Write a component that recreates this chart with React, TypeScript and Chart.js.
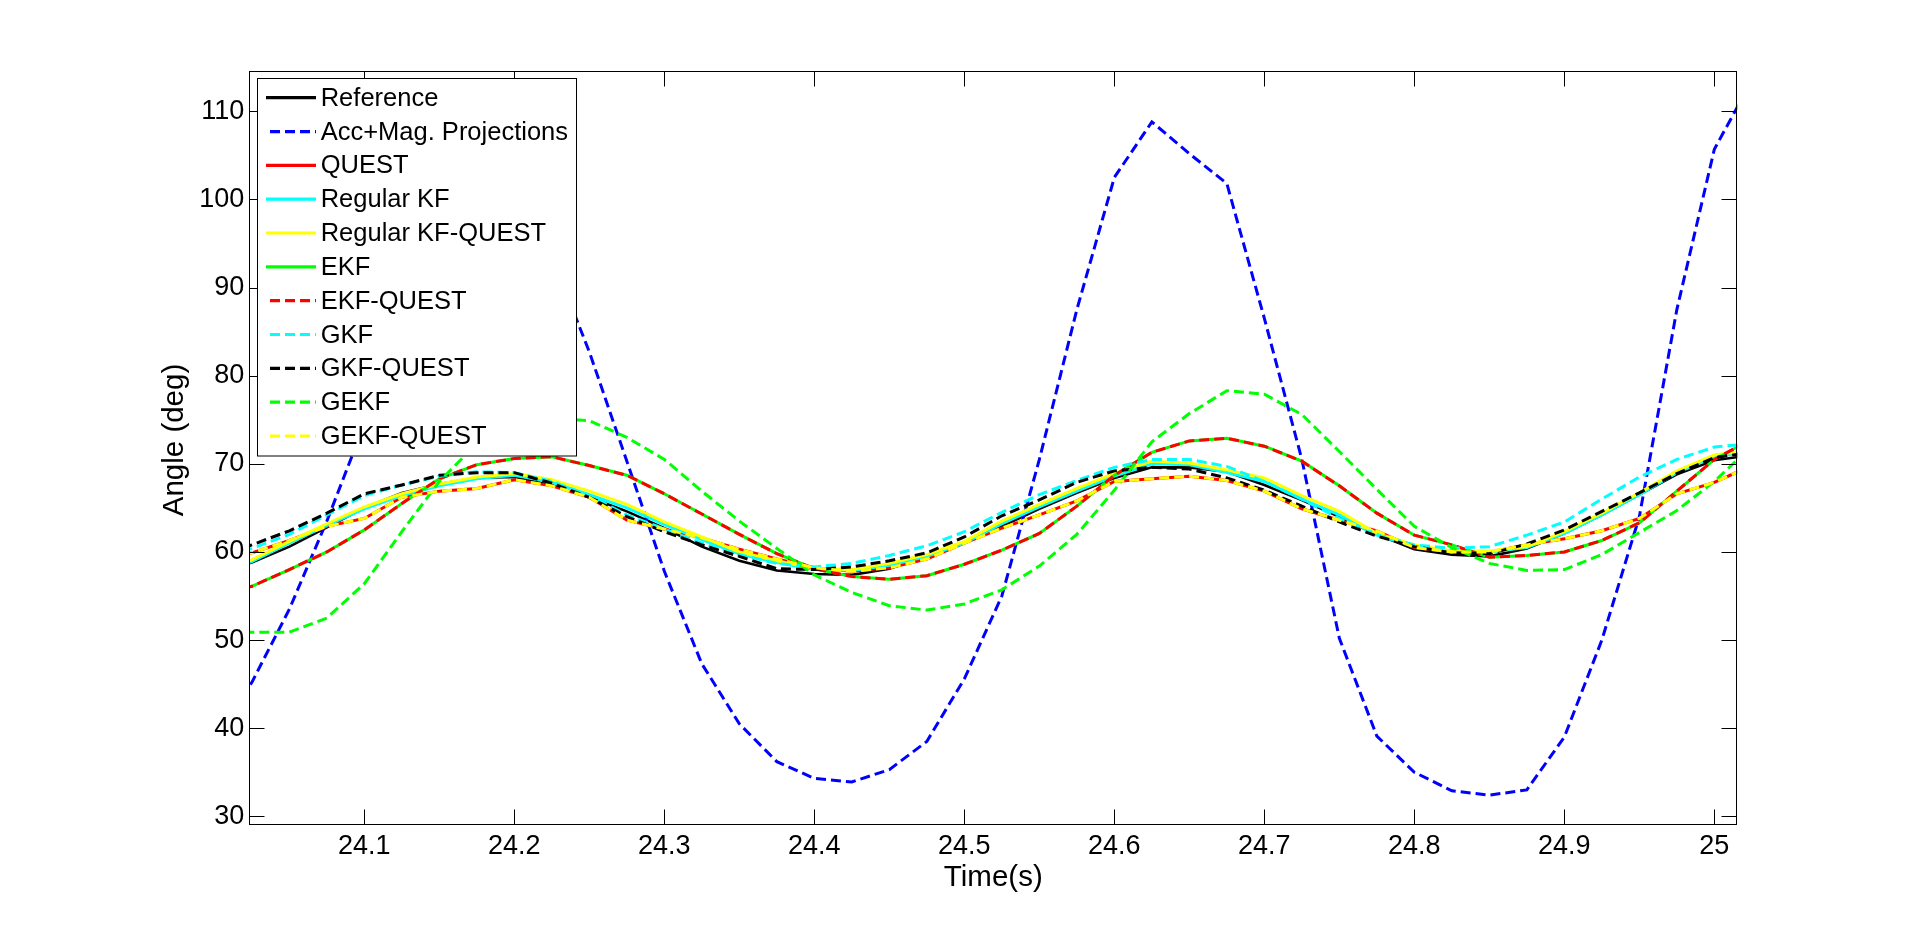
import React, { useEffect, useRef } from 'react';
import { Chart, registerables } from 'chart.js';

Chart.register(...registerables);

// ---- data ----
const time = [
  24.0, 24.025, 24.05, 24.075, 24.1, 24.125, 24.15, 24.175, 24.2, 24.225,
  24.25, 24.275, 24.3, 24.325, 24.35, 24.375, 24.4, 24.425, 24.45, 24.475,
  24.5, 24.525, 24.55, 24.575, 24.6, 24.625, 24.65, 24.675, 24.7, 24.725,
  24.75, 24.775, 24.8, 24.825, 24.85, 24.875, 24.9, 24.925, 24.95, 24.975,
  25.0, 25.025,
];

const reference = [
  57.8, 58.8, 60.6, 62.8, 65.0, 66.7, 67.7, 68.4, 68.5, 67.6,
  66.2, 64.6, 62.7, 60.6, 59.0, 57.9, 57.5, 57.4, 58.1, 59.5,
  61.0, 62.9, 64.9, 66.7, 68.4, 69.6, 69.6, 69.1, 67.6, 65.9,
  64.0, 62.0, 60.3, 59.7, 59.5, 60.4, 62.1, 64.2, 66.5, 68.8,
  70.4, 71.0,
];

const accMag = [
  39.5, 45.2, 53.5, 63.5, 74.5, 84.0, 90.0, 93.5, 95.0, 93.5,
  82.7, 70.3, 57.8, 47.3, 40.5, 36.2, 34.3, 33.9, 35.3, 38.5,
  45.6, 55.0, 70.5, 87.5, 102.5, 108.8, 105.2, 101.8, 86.5, 70.5,
  50.2, 39.1, 35.0, 32.9, 32.4, 33.0, 39.0, 50.0, 64.0, 87.5,
  105.7, 113.5,
];

const quest = [
  59.0, 59.9, 61.3, 62.9, 63.8, 66.2, 66.9, 67.2, 68.2, 67.5,
  66.2, 63.6, 62.6, 61.6, 60.3, 59.2, 58.2, 57.8, 58.2, 59.2,
  61.0, 62.7, 64.2, 65.8, 68.0, 68.3, 68.6, 68.1, 66.9, 64.9,
  63.6, 62.4, 60.5, 60.0, 60.0, 60.8, 61.5, 62.4, 63.8, 66.6,
  67.9, 69.8,
];

const regularKF = [
  57.8, 58.9, 61.0, 63.0, 64.9, 66.4, 67.5, 68.3, 68.7, 67.9,
  66.5, 65.0, 63.1, 61.4, 59.8, 58.8, 58.0, 57.9, 58.5, 59.5,
  61.0, 63.2, 65.1, 66.9, 68.6, 70.0, 69.9, 69.0, 68.0, 66.0,
  64.2, 61.9, 60.6, 60.0, 60.0, 60.5, 62.1, 64.2, 66.5, 69.0,
  70.8, 71.4,
];

const regularKFQuest = [
  58.0, 59.1, 61.2, 63.2, 65.1, 66.6, 67.7, 68.5, 68.9, 68.2,
  66.9, 65.4, 63.4, 61.7, 60.0, 59.0, 58.1, 58.0, 58.7, 59.7,
  61.2, 63.5, 65.4, 67.2, 68.9, 70.3, 70.1, 69.3, 68.4, 66.4,
  64.6, 62.1, 60.8, 60.1, 60.1, 60.6, 62.3, 64.4, 66.7, 69.2,
  71.0, 71.6,
];

const ekf = [
  55.0, 56.1, 58.0, 60.0, 62.5, 65.5, 68.3, 69.9, 70.6, 70.8,
  69.8, 68.7, 66.6, 64.3, 62.0, 59.8, 58.1, 57.2, 56.9, 57.3,
  58.6, 60.2, 62.1, 65.2, 68.7, 71.3, 72.6, 72.9, 72.0, 70.3,
  67.5, 64.4, 61.9, 60.8, 59.4, 59.6, 60.0, 61.3, 63.3, 66.9,
  70.5, 72.8,
];

const ekfQuest = [...ekf];

const gkf = [
  58.9, 60.4, 62.0, 64.2, 66.4, 67.6, 68.6, 69.1, 69.0, 68.0,
  66.4, 64.2, 62.6, 61.0, 59.7, 58.7, 58.3, 58.7, 59.6, 60.7,
  62.3, 64.5, 66.5, 68.1, 69.6, 70.5, 70.5, 69.7, 68.0, 66.0,
  63.8, 62.0, 60.8, 60.4, 60.6, 61.9, 63.4, 66.0, 68.5, 70.5,
  71.9, 72.3,
];

const gkfQuest = [
  59.3, 60.8, 62.4, 64.4, 66.6, 67.6, 68.7, 69.0, 69.0, 67.8,
  66.2, 64.0, 62.3, 60.8, 59.5, 58.1, 58.0, 58.3, 59.0, 59.9,
  61.7, 64.1, 65.9, 67.9, 69.2, 69.6, 69.4, 68.4, 67.0, 65.2,
  63.4, 61.8, 60.6, 59.9, 59.8, 60.9, 62.5, 64.6, 66.7, 68.9,
  70.7, 71.3,
];

const gekf = [
  50.9, 50.9, 50.9, 52.5, 56.4, 62.3, 68.0, 72.3, 74.3, 75.2,
  74.9, 73.0, 70.5, 66.9, 63.5, 60.4, 57.4, 55.4, 53.9, 53.4,
  54.1, 55.7, 58.4, 62.0, 67.0, 72.5, 75.7, 78.3, 77.9, 75.6,
  71.4, 67.1, 62.9, 60.5, 58.7, 57.9, 58.0, 59.7, 62.2, 64.7,
  68.0, 72.0,
];

const gekfQuest = [...quest];

const xTicks = [24.1, 24.2, 24.3, 24.4, 24.5, 24.6, 24.7, 24.8, 24.9, 25.0];
const xTickLabels = ['24.1', '24.2', '24.3', '24.4', '24.5', '24.6', '24.7', '24.8', '24.9', '25'];
const yTicks = [30, 40, 50, 60, 70, 80, 90, 100, 110];
const yTickLabels = ['30', '40', '50', '60', '70', '80', '90', '100', '110'];

const FONT = '"Liberation Sans", Arial, Helvetica, sans-serif';
const DASH = [10, 5];

export default function App() {
  const canvasRef = useRef<HTMLCanvasElement>(null);

  useEffect(() => {
    const canvas = canvasRef.current;
    if (!canvas) return;

    const specs = [
      { label: 'Reference', data: reference, color: '#000000', dash: [] as number[], width: 2.6 },
      { label: 'Acc+Mag. Projections', data: accMag, color: '#0000FF', dash: DASH, width: 3 },
      { label: 'QUEST', data: quest, color: '#FF0000', dash: [] as number[], width: 3 },
      { label: 'Regular KF', data: regularKF, color: '#00FFFF', dash: [] as number[], width: 3 },
      { label: 'Regular KF-QUEST', data: regularKFQuest, color: '#FFFF00', dash: [] as number[], width: 3 },
      { label: 'EKF', data: ekf, color: '#00FF00', dash: [] as number[], width: 3 },
      { label: 'EKF-QUEST', data: ekfQuest, color: '#FF0000', dash: DASH, width: 3 },
      { label: 'GKF', data: gkf, color: '#00FFFF', dash: DASH, width: 3 },
      { label: 'GKF-QUEST', data: gkfQuest, color: '#000000', dash: DASH, width: 3 },
      { label: 'GEKF', data: gekf, color: '#00FF00', dash: DASH, width: 3 },
      { label: 'GEKF-QUEST', data: gekfQuest, color: '#FFFF00', dash: DASH, width: 3 },
    ];

    const datasets = specs.map((s, i) => ({
      label: s.label,
      data: time.map((t, k) => ({ x: t, y: s.data[k] })),
      borderColor: s.color,
      backgroundColor: s.color,
      borderWidth: s.width,
      borderDash: s.dash,
      pointRadius: 0,
      pointHoverRadius: 0,
      tension: 0,
      fill: false,
      order: -i,
    }));

    const framePlugin = {
      id: 'matlabFrame',
      afterDraw(chart: any) {
        const { ctx, chartArea } = chart;
        const xs = chart.scales.x;
        const ys = chart.scales.y;
        const L = Math.round(chartArea.left) + 0.5;
        const R = Math.round(chartArea.right) - 0.5;
        const T = Math.round(chartArea.top) + 0.5;
        const B = Math.round(chartArea.bottom) - 0.5;
        ctx.save();
        ctx.setLineDash([]);
        ctx.strokeStyle = '#000000';
        ctx.lineWidth = 1;
        ctx.strokeRect(L, T, R - L, B - T);
        const tl = 15;
        ctx.beginPath();
        xTicks.forEach((v) => {
          const px = Math.round(xs.getPixelForValue(v)) + 0.5;
          ctx.moveTo(px, B);
          ctx.lineTo(px, B - tl);
          ctx.moveTo(px, T);
          ctx.lineTo(px, T + tl);
        });
        yTicks.forEach((v) => {
          const py = Math.round(ys.getPixelForValue(v)) + 0.5;
          ctx.moveTo(L, py);
          ctx.lineTo(L + tl, py);
          ctx.moveTo(R, py);
          ctx.lineTo(R - tl, py);
        });
        ctx.stroke();

        // y-axis title
        ctx.save();
        ctx.translate(174.5, 440);
        ctx.rotate(-Math.PI / 2);
        ctx.font = `29.5px ${FONT}`;
        ctx.fillStyle = '#000000';
        ctx.textAlign = 'center';
        ctx.textBaseline = 'middle';
        ctx.fillText('Angle (deg)', 0, 0);
        ctx.restore();

        // legend
        const lx = 257.5, ly = 78.5, lw = 319, lh = 377.5;
        ctx.fillStyle = '#FFFFFF';
        ctx.fillRect(lx, ly, lw, lh);
        ctx.strokeStyle = '#000000';
        ctx.lineWidth = 1;
        ctx.strokeRect(lx, ly, lw, lh);
        const rowH = 33.83;
        const firstY = 97.7;
        ctx.font = `25.5px ${FONT}`;
        ctx.textBaseline = 'middle';
        ctx.textAlign = 'left';
        specs.forEach((s, i) => {
          const yy = firstY + i * rowH;
          ctx.beginPath();
          ctx.setLineDash(s.dash);
          ctx.strokeStyle = s.color;
          ctx.lineWidth = 3.2;
          ctx.moveTo(s.dash.length ? 270 : 266, yy);
          ctx.lineTo(316, yy);
          ctx.stroke();
          ctx.setLineDash([]);
          ctx.fillStyle = '#000000';
          ctx.fillText(s.label, 320.7, yy + 1);
        });
        ctx.restore();
      },
    };

    const chart = new Chart(canvas, {
      type: 'line',
      data: { datasets },
      options: {
        animation: false,
        responsive: false,
        events: [],
        layout: { padding: { left: 0, top: 70.7, right: 182.7, bottom: 0 } },
        plugins: {
          legend: { display: false },
          tooltip: { enabled: false },
          title: { display: false },
        },
        scales: {
          x: {
            type: 'linear',
            min: 24.0233,
            max: 25.0153,
            grid: { display: false, drawTicks: false },
            border: { display: false },
            afterBuildTicks: (s: any) => {
              s.ticks = xTicks.map((v) => ({ value: v }));
            },
            afterFit: (s: any) => {
              s.height = 101.7;
              s.paddingLeft = 0;
              s.paddingRight = 0;
            },
            ticks: {
              autoSkip: false,
              maxRotation: 0,
              minRotation: 0,
              padding: 5,
              color: '#000000',
              font: { family: FONT, size: 27 },
              callback: (_v: any, i: number) => xTickLabels[i],
            },
            title: {
              display: true,
              text: 'Time(s)',
              color: '#000000',
              font: { family: FONT, size: 29.5 },
              padding: { top: 0, bottom: 31 },
            },
          },
          y: {
            type: 'linear',
            position: 'left',
            min: 28.98,
            max: 114.61,
            grid: { display: false, drawTicks: false },
            border: { display: false },
            afterBuildTicks: (s: any) => {
              s.ticks = yTicks.map((v) => ({ value: v }));
            },
            afterFit: (s: any) => {
              s.width = 249.3;
            },
            ticks: {
              autoSkip: false,
              padding: 5,
              color: '#000000',
              font: { family: FONT, size: 27 },
              callback: (_v: any, i: number) => yTickLabels[i],
            },
            title: { display: false },
          },
        },
      },
      plugins: [framePlugin],
    });

    return () => {
      chart.destroy();
    };
  }, []);

  return (
    <canvas
      ref={canvasRef}
      width={1920}
      height={927}
      style={{ position: 'fixed', left: 0, top: 0, width: '1920px', height: '927px', display: 'block', background: '#FFFFFF' }}
    />
  );
}
